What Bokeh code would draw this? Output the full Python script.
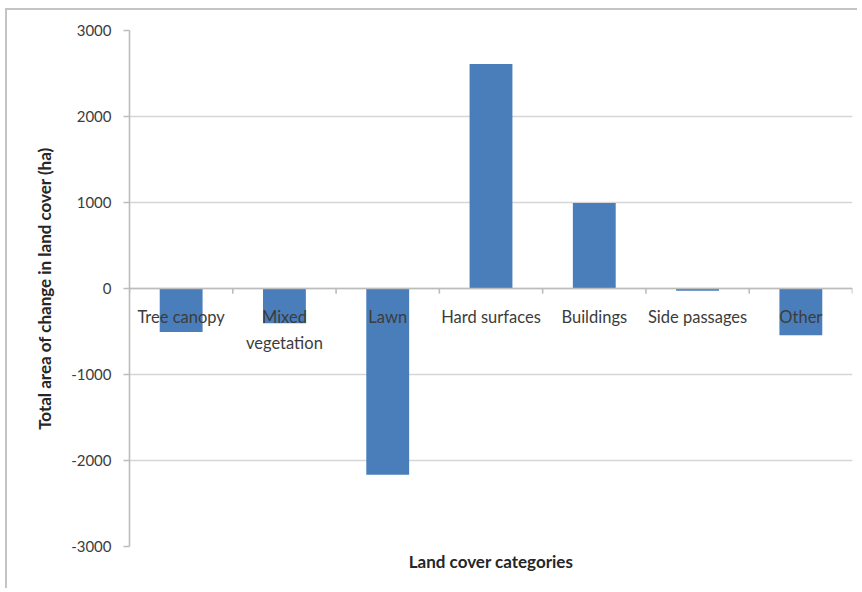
from bokeh.plotting import figure
from bokeh.models import (Range1d, Span, SingleIntervalTicker, NumeralTickFormatter,
                          ColumnDataSource, FactorRange, Title)
from bokeh.transform import dodge
from bokeh.core.properties import value
from bokeh.embed import file_html
from bokeh.resources import INLINE

# ---- data ----
categories = ["Tree canopy", "Mixed vegetation", "Lawn", "Hard surfaces",
              "Buildings", "Side passages", "Other"]
tick_labels = ["Tree canopy", "Mixed\nvegetation", "Lawn", "Hard surfaces",
               "Buildings", "Side passages", "Other"]
change_ha = [-505, -405, -2165, 2610, 995, -25, -545]
y_min, y_max, y_step = -3000, 3000, 1000
y_title = "Total area of change in land cover (ha)"
x_title = "Land cover categories"

FONT = "Lato"
BAR = "#4a7ebb"
GRID = "#d6d6d6"
AXIS = "#bcbcbc"
TXT = "#3c3c3c"

p = figure(x_range=FactorRange(*categories), y_range=Range1d(y_min, y_max),
           width=852, height=580, output_backend="svg", toolbar_location=None,
           min_border_left=122, min_border_right=7, min_border_top=20,
           min_border_bottom=44,
           styles={"margin-left": "5px", "margin-top": "8px",
                   "border-left": "2px solid #c4c4c4", "border-top": "2px solid #c4c4c4"})
p.outline_line_color = None
p.background_fill_color = "white"
p.border_fill_color = "white"

src = ColumnDataSource(dict(cat=categories, val=change_ha, lab=tick_labels,
                            zero=[0] * len(categories)))

# grid
p.xgrid.visible = False
p.ygrid.grid_line_color = GRID
p.ygrid.grid_line_width = 1.6

# y axis
ya = p.yaxis[0]
ya.ticker = SingleIntervalTicker(interval=y_step, num_minor_ticks=0)
ya.formatter = NumeralTickFormatter(format="0")
ya.axis_line_color = AXIS
ya.axis_line_width = 1.6
ya.major_tick_line_color = AXIS
ya.major_tick_line_width = 1.6
ya.major_tick_out = 6
ya.major_tick_in = 0
ya.minor_tick_line_color = None
ya.major_label_standoff = 12
ya.major_label_text_font = FONT
ya.major_label_text_font_size = "15px"
ya.major_label_text_color = TXT
ya.axis_label = y_title
ya.axis_label_text_font = FONT
ya.axis_label_text_font_size = "17px"
ya.axis_label_text_font_style = "bold"
ya.axis_label_text_color = "#262626"
ya.axis_label_standoff = 13

# x axis hidden; its title is drawn below the plot area
p.xaxis.visible = False
p.add_layout(Title(text=x_title, align="center", text_font=FONT,
                   text_font_size="17px", text_font_style="bold",
                   text_color="#262626", standoff=4), "below")

# bars
p.vbar(x="cat", top="val", bottom=0, width=0.415, source=src,
       fill_color=BAR, line_color=None)

# zero axis line with tick marks between categories
p.add_layout(Span(location=0, dimension="width", line_color=AXIS, line_width=1.6))
TICK_LEN = 60
p.segment(x0=dodge("cat", -0.5, range=p.x_range), x1=dodge("cat", -0.5, range=p.x_range),
          y0=0, y1=-TICK_LEN, source=src, line_color=AXIS, line_width=1.6)
last = ColumnDataSource(dict(cat=categories[-1:]))
p.segment(x0=dodge("cat", 0.5, range=p.x_range), x1=dodge("cat", 0.5, range=p.x_range),
          y0=0, y1=-TICK_LEN, source=last, line_color=AXIS, line_width=1.6)

# category labels just below the zero line
p.text(x="cat", y="zero", text="lab", source=src, text_align="center",
       text_baseline="top", y_offset=18, text_font=value(FONT),
       text_font_size="16.5px", text_color=TXT, text_line_height=1.3)

open("out.html", "w").write(file_html(p, INLINE))
